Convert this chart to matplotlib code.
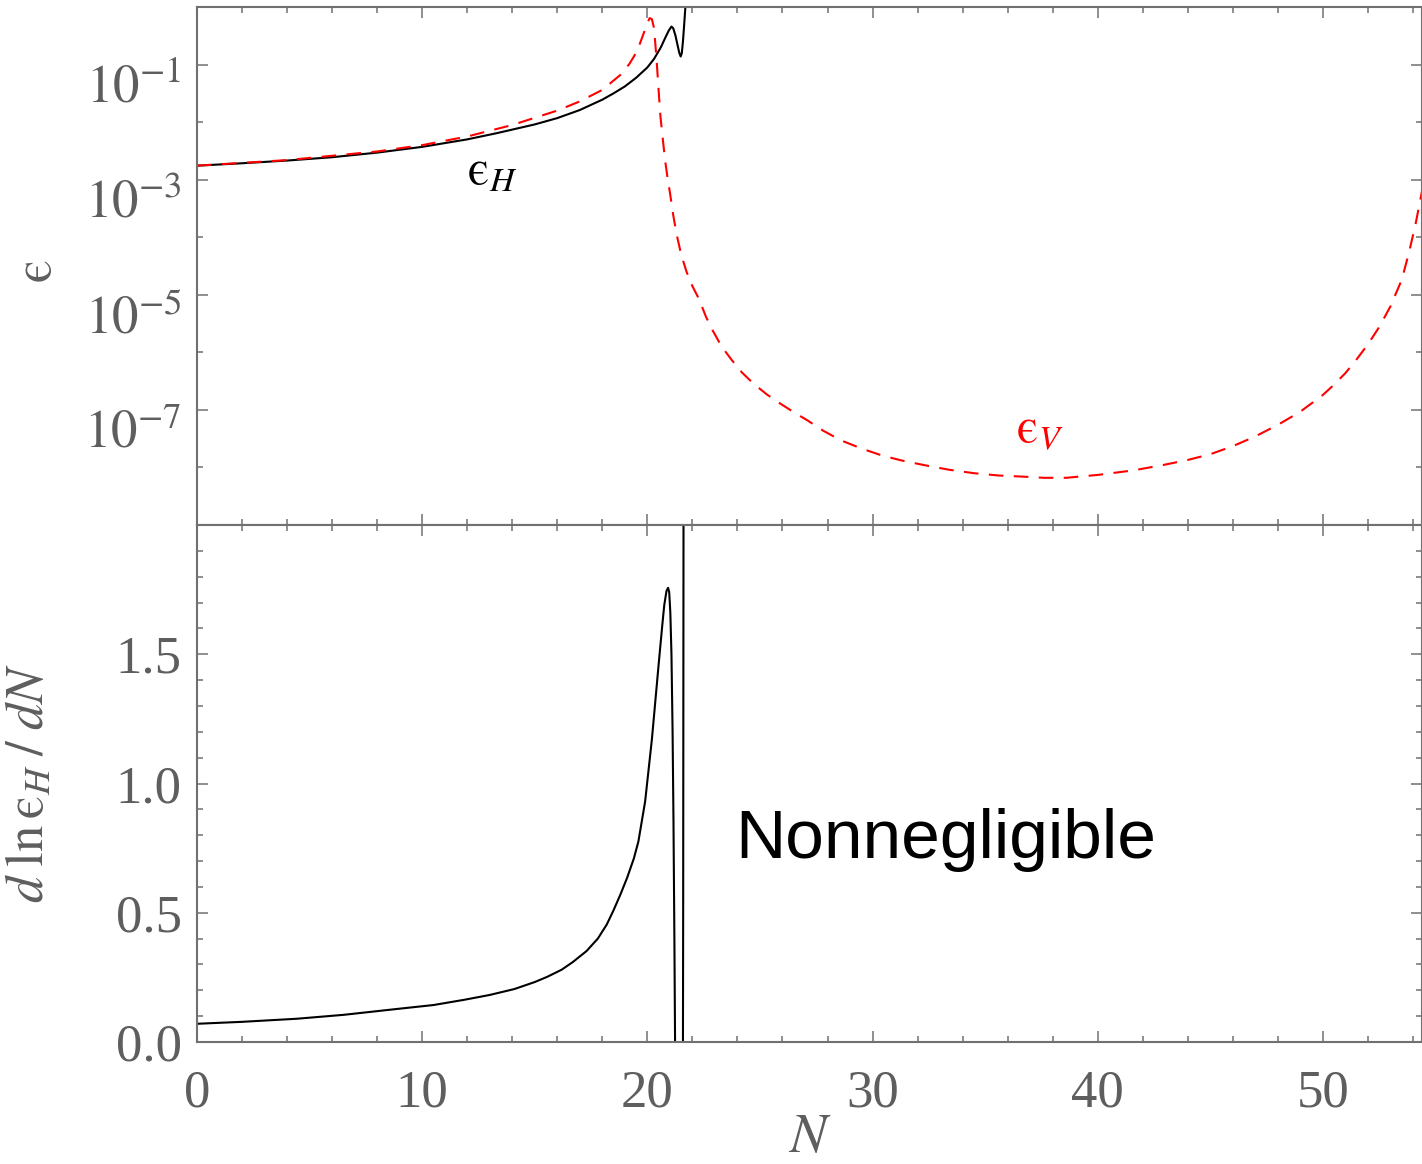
import matplotlib
matplotlib.use("Agg")
import matplotlib.pyplot as plt
from matplotlib.ticker import FixedLocator, FixedFormatter, MultipleLocator, NullFormatter

plt.rcParams['mathtext.fontset'] = 'stix'
plt.rcParams['font.family'] = ['Liberation Serif', 'DejaVu Serif']

# ---------------- data ----------------
# epsilon_H (log10 values)
N_epsH = [0, 2, 4, 6, 8, 10, 12, 13.3, 14, 15, 16, 17, 18, 18.5, 19, 19.5,
          20, 20.3, 20.6, 20.8, 20.95, 21.07, 21.15, 21.25, 21.35, 21.42, 21.48, 21.53,
          21.58, 21.63, 21.68, 21.72, 21.76]
log_epsH = [-2.757, -2.715, -2.668, -2.61, -2.53, -2.43, -2.30, -2.193, -2.13, -2.04,
            -1.93, -1.79, -1.61, -1.50, -1.38, -1.23, -1.05, -0.90, -0.70,
            -0.53, -0.41, -0.34, -0.37, -0.50, -0.68, -0.80, -0.86, -0.80,
            -0.60, -0.33, -0.05, 0.20, 0.45]

# epsilon_V (log10 values)
N_epsV = [0, 4, 8, 10, 12, 14, 16, 17, 18, 18.8, 19.2, 19.54, 19.84, 20.0, 20.1, 20.2,
          20.28, 20.35, 20.43, 20.5, 20.58, 20.7, 20.8, 20.9, 21.0, 21.15, 21.3, 21.5,
          21.74, 22.0, 22.3, 22.6, 22.9, 23.3, 23.76, 24.2, 24.7, 25.3, 25.9, 26.5, 27.1,
          27.8, 28.6, 29.5, 30.4, 31.3, 32.3, 33.4, 34.5, 35.6, 36.7, 37.6, 38.6, 40.0,
          41.6, 43.0, 44.0, 45.0, 46.0, 47.0, 48.0, 49.0, 50.0, 50.5, 51.0, 51.5, 52.0,
          52.5, 53.0, 53.5, 53.8, 54.1, 54.3, 54.5]
log_epsV = [-2.757, -2.66, -2.51, -2.40, -2.25, -2.05, -1.80, -1.64, -1.44, -1.18, -0.99,
            -0.77, -0.454, -0.28, -0.193, -0.21, -0.34, -0.62, -1.035, -1.45, -1.90, -2.35,
            -2.70, -2.98, -3.22, -3.62, -3.95, -4.30, -4.60, -4.85, -5.08, -5.38, -5.62,
            -5.90, -6.14, -6.35, -6.54, -6.73, -6.89, -7.04, -7.18, -7.36, -7.53, -7.67,
            -7.79, -7.88, -7.96, -8.04, -8.10, -8.14, -8.16, -8.18, -8.18, -8.13, -8.05,
            -7.95, -7.87, -7.77, -7.63, -7.46, -7.26, -7.03, -6.74, -6.56, -6.36, -6.12,
            -5.86, -5.56, -5.20, -4.74, -4.30, -3.80, -3.40, -3.0]

# d ln epsilon_H / dN
N_eta = [0, 2, 4.44, 6.5, 8.9, 10.5, 11.85, 13, 14.1, 15, 15.55, 16.2, 16.7, 17.3, 17.8,
         18.2, 18.5, 18.8, 19.1, 19.4, 19.6, 19.9, 20.2, 20.5, 20.66, 20.75, 20.85, 20.92,
         20.97, 21.02, 21.07, 21.12, 21.16, 21.2, 21.23, 21.27, 21.56, 21.59, 21.61]
eta = [0.0705, 0.078, 0.090, 0.105, 0.128, 0.143, 0.163, 0.182, 0.205, 0.232, 0.252,
       0.28, 0.31, 0.352, 0.40, 0.455, 0.51, 0.57, 0.635, 0.71, 0.775, 0.93, 1.17, 1.46,
       1.61, 1.69, 1.745, 1.757, 1.74, 1.66, 1.50, 1.20, 0.85, 0.40, 0.0, -1.0, -1.0,
       0.5, 2.5]

x_major = [0, 10, 20, 30, 40, 50]
x_labels = ['0', '10', '20', '30', '40', '50']
y1_major = [1e-7, 1e-5, 1e-3, 1e-1]
y1_labels = [r'$10^{-7}$', r'$10^{-5}$', r'$10^{-3}$', r'$10^{-1}$']
y1_minor = [1e-8, 1e-6, 1e-4, 1e-2]
y2_major = [0.0, 0.5, 1.0, 1.5]
y2_labels = ['0.0', '0.5', '1.0', '1.5']

# ---------------- figure ----------------
W, H = 1422, 1164
fig = plt.figure(figsize=(W / 100, H / 100), dpi=100)
L = 197 / W
ax1 = fig.add_axes([L, 1 - 525 / H, 1 - L, (525 - 7) / H])
ax2 = fig.add_axes([L, 1 - 1042 / H, 1 - L, (1042 - 525) / H])

axcol = '#707070'
txtcol = '#5e5e5e'

ax1.plot(N_epsH, [10 ** v for v in log_epsH], color='black', lw=1.5)
ax1.plot(N_epsV, [10 ** v for v in log_epsV], color='#ff0000', lw=1.5, dashes=(7, 5))
ax2.plot(N_eta, eta, color='black', lw=1.5)

for ax in (ax1, ax2):
    ax.set_xlim(0, 54.4)
    for s in ax.spines.values():
        s.set_color(axcol)
        s.set_linewidth(1.5)
    ax.xaxis.set_major_locator(FixedLocator(x_major))
    ax.xaxis.set_minor_locator(MultipleLocator(2))
    ax.tick_params(which='both', direction='in', top=True, right=True, color=axcol,
                   width=1.1, labelcolor=txtcol, labelsize=38)
    ax.tick_params(which='major', length=8)
    ax.tick_params(which='minor', length=4.5)

EPS = '\u03f5'

# top panel
ax1.set_yscale('log')
ax1.set_ylim(1e-9, 1)
ax1.yaxis.set_major_locator(FixedLocator(y1_major))
ax1.yaxis.set_major_formatter(FixedFormatter(y1_labels))
ax1.yaxis.set_minor_locator(FixedLocator(y1_minor))
ax1.yaxis.set_minor_formatter(NullFormatter())
ax1.tick_params(axis='x', labelbottom=False)
ax1.tick_params(axis='y', pad=11)
for t in ax1.yaxis.get_major_ticks():
    t.label1.set_verticalalignment('top')
ax1.set_ylabel(r'$\mathrm{' + EPS + '}$', fontsize=38, color=txtcol, labelpad=0)
ax1.yaxis.set_label_coords(-0.11, 0.49)

ax1.text(12.0, 8.1e-4, r'$\mathrm{' + EPS + '}_{H}$', fontsize=35, color='black',
         ha='left', va='baseline')
ax1.text(36.36, 2.6e-8, r'$\mathrm{' + EPS + '}_{V}$', fontsize=35, color='#ff0000',
         ha='left', va='baseline')

# bottom panel
ax2.set_ylim(0, 2.0)
ax2.yaxis.set_major_locator(FixedLocator(y2_major))
ax2.yaxis.set_major_formatter(FixedFormatter(y2_labels))
ax2.yaxis.set_minor_locator(MultipleLocator(0.1))
ax2.xaxis.set_major_formatter(FixedFormatter(x_labels))
ax2.tick_params(axis='y', pad=11)
ax2.tick_params(axis='x', pad=20)
ax2.set_ylabel(r'$d\;\mathrm{ln}\,\mathrm{' + EPS + r'}_{H}\;/\;dN$', fontsize=38,
               color=txtcol)
ax2.yaxis.set_label_coords(-0.116, 0.5)
ax2.set_xlabel(r'$N$', fontsize=40, color=txtcol, labelpad=-4)

ax2.text(23.9, 0.711, 'Nonnegligible', fontsize=50, color='black',
         family='Liberation Sans', ha='left', va='baseline')

fig.savefig('out.png', dpi=100)
